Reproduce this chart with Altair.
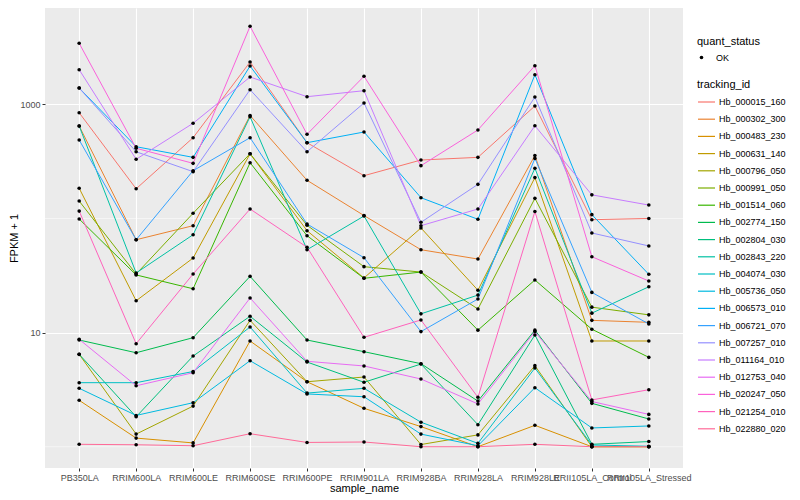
import altair as alt
import pandas as pd

samples = ["PB350LA", "RRIM600LA", "RRIM600LE", "RRIM600SE", "RRIM600PE", "RRIM901LA",
           "RRIM928BA", "RRIM928LA", "RRIM928LE", "RRII105LA_Control", "RRII105LA_Stressed"]

tracking_ids = ["Hb_000015_160", "Hb_000302_300", "Hb_000483_230", "Hb_000631_140", "Hb_000796_050",
                "Hb_000991_050", "Hb_001514_060", "Hb_002774_150", "Hb_002804_030", "Hb_002843_220",
                "Hb_004074_030", "Hb_005736_050", "Hb_006573_010", "Hb_006721_070", "Hb_007257_010",
                "Hb_011164_010", "Hb_012753_040", "Hb_020247_050", "Hb_021254_010", "Hb_022880_020"]

colors = ["#F8766D", "#EA8331", "#D89000", "#C09B00", "#A3A500", "#7CAE00", "#39B600", "#00BB4E",
          "#00BF7D", "#00C1A3", "#00BFC4", "#00BAE0", "#00B0F6", "#35A2FF", "#9590FF", "#C77CFF",
          "#E76BF3", "#FA62DB", "#FF62BC", "#FF6A98"]

# FPKM + 1 per sample, in the order of `samples`
hb_000015_160 = [844, 182, 510, 2348, 461, 237, 325, 343, 967, 97.5, 100]
hb_000302_300 = [646, 65.1, 86.4, 798, 216, 106, 53.2, 44.1, 356, 12.8, 12.3]
hb_000483_230 = [2.55, 1.19, 1.08, 8.44, 3.71, 2.17, 1.50, 1.0, 1.54, 1.0, 1.0]
hb_000631_140 = [184, 19.0, 45.0, 369, 78.1, 30.1, 82.5, 23.5, 228, 8.44, 8.44]
hb_000796_050 = [6.45, 1.29, 2.27, 12.8, 3.71, 4.08, 1.045, 1.27, 5.13, 1.0, 1.0]
hb_000991_050 = [142, 32.6, 111, 369, 87.1, 37.8, 33.9, 16.1, 150, 16.7, 14.3]
hb_001514_060 = [98.9, 32.0, 24.2, 308, 70.6, 29.9, 33.9, 10.5, 28.9, 10.7, 6.07]
hb_002774_150 = [8.61, 6.66, 9.02, 31.1, 8.61, 6.80, 5.34, 2.51, 10.5, 2.40, 1.75]
hb_002804_030 = [6.45, 1.83, 6.23, 13.9, 5.52, 3.67, 5.30, 1.56, 9.52, 1.05, 1.11]
hb_002843_220 = [646, 33.3, 72.0, 779, 53.2, 105, 14.6, 21.3, 275, 14.8, 25.2]
hb_004074_030 = [3.64, 3.64, 4.56, 11.2, 2.95, 3.25, 1.64, 1.07, 4.89, 1.035, 1.01]
hb_005736_050 = [3.25, 1.88, 2.43, 5.67, 2.90, 2.74, 1.29, 1.02, 3.29, 1.46, 1.52]
hb_006573_010 = [1389, 425, 343, 2166, 461, 572, 152, 98.3, 1818, 108, 32.4]
hb_006721_070 = [487, 65.1, 262, 510, 89.4, 45.3, 10.2, 19.7, 336, 22.5, 11.9]
hb_007257_010 = [1389, 384, 257, 1343, 384, 1027, 92.5, 199, 1159, 74.6, 57.4]
hb_011164_010 = [2011, 330, 682, 1735, 1166, 1316, 86.4, 121, 649, 161, 131]
hb_012753_040 = [8.73, 3.42, 4.45, 20.1, 5.60, 5.10, 3.92, 2.37, 10.2, 2.49, 1.92]
hb_020247_050 = [3425, 412, 304, 4826, 546, 1760, 290, 596, 2179, 46.2, 28.3]
hb_021254_010 = [116, 7.99, 32.6, 121, 55.9, 9.09, 12.9, 2.71, 115, 2.57, 3.16]
hb_022880_020 = [1.05, 1.04, 1.02, 1.30, 1.09, 1.10, 1.0, 1.0, 1.05, 1.0, 1.0]

series = [hb_000015_160, hb_000302_300, hb_000483_230, hb_000631_140, hb_000796_050,
          hb_000991_050, hb_001514_060, hb_002774_150, hb_002804_030, hb_002843_220,
          hb_004074_030, hb_005736_050, hb_006573_010, hb_006721_070, hb_007257_010,
          hb_011164_010, hb_012753_040, hb_020247_050, hb_021254_010, hb_022880_020]

minor_grid = [1, 100]

rows = []
for tid, vals in zip(tracking_ids, series):
    for s, v in zip(samples, vals):
        rows.append({"tracking_id": tid, "sample_name": s, "fpkm1": v, "quant_status": "OK"})
df = pd.DataFrame(rows)

FONT = "Liberation Sans"

x_enc = alt.X(
    "sample_name:N", sort=samples,
    scale=alt.Scale(type="point", padding=0.6),
    axis=alt.Axis(title="sample_name", labelAngle=0, labelOverlap=False, grid=True,
                  gridColor="white", gridWidth=1.1, domain=False, tickColor="#333333",
                  tickSize=3, labelColor="#4D4D4D", labelFontSize=9, labelFont=FONT,
                  titleFont=FONT, titleFontSize=11, titleColor="black", titleFontWeight="normal",
                  labelPadding=2, titlePadding=0),
)
y_scale = alt.Scale(type="log", domain=[0.651, 6980], nice=False)
y_axis = alt.Axis(title="FPKM + 1", values=[10, 1000], format="d", grid=True, gridColor="white",
                  gridWidth=1.1, domain=False, tickColor="#333333", tickSize=3,
                  labelColor="#4D4D4D", labelFontSize=9, labelFont=FONT, titleFont=FONT,
                  titleFontSize=11, titleColor="black", titleFontWeight="normal",
                  labelPadding=2, titlePadding=0)
y_enc = alt.Y("fpkm1:Q", scale=y_scale, axis=y_axis)

grid_df = pd.DataFrame({"fpkm1": minor_grid})
minor = alt.Chart(grid_df).mark_rule(color="white", strokeWidth=0.55).encode(
    y=alt.Y("fpkm1:Q", scale=y_scale, axis=y_axis)
)

lines = alt.Chart(df).mark_line(strokeWidth=1).encode(
    x=x_enc, y=y_enc,
    color=alt.Color("tracking_id:N", scale=alt.Scale(domain=tracking_ids, range=colors),
                    legend=alt.Legend(title="tracking_id", orient="none", legendX=652, legendY=71,
                                      symbolType="stroke", symbolSize=289, symbolStrokeWidth=1.2,
                                      rowPadding=2.2, titlePadding=2.5, labelOffset=3,
                                      labelFontSize=9, labelFont=FONT, titleFont=FONT,
                                      titleFontSize=11, titleFontWeight="normal",
                                      labelColor="black", titleColor="black", padding=0)),
)

points = alt.Chart(df).mark_point(filled=True, size=13, color="black", opacity=1).encode(
    x=x_enc, y=y_enc,
    shape=alt.Shape("quant_status:N", scale=alt.Scale(range=["circle"]),
                    legend=alt.Legend(title="quant_status", orient="none", legendX=652, legendY=28,
                                      symbolSize=13, symbolFillColor="black",
                                      symbolStrokeColor="black", titlePadding=6, labelOffset=10,
                                      labelFontSize=9, labelFont=FONT, titleFont=FONT,
                                      titleFontSize=11, titleFontWeight="normal",
                                      labelColor="black", titleColor="black", padding=0)),
)

chart = alt.layer(minor, lines, points).properties(
    width=638, height=460,
    autosize=alt.AutoSizeParams(type="none"),
    padding={"left": 37, "top": 0, "right": 108, "bottom": 30},
).configure_view(fill="#EBEBEB", strokeWidth=0)

chart.save("out.html", embed_options={"renderer": "svg", "actions": False})
